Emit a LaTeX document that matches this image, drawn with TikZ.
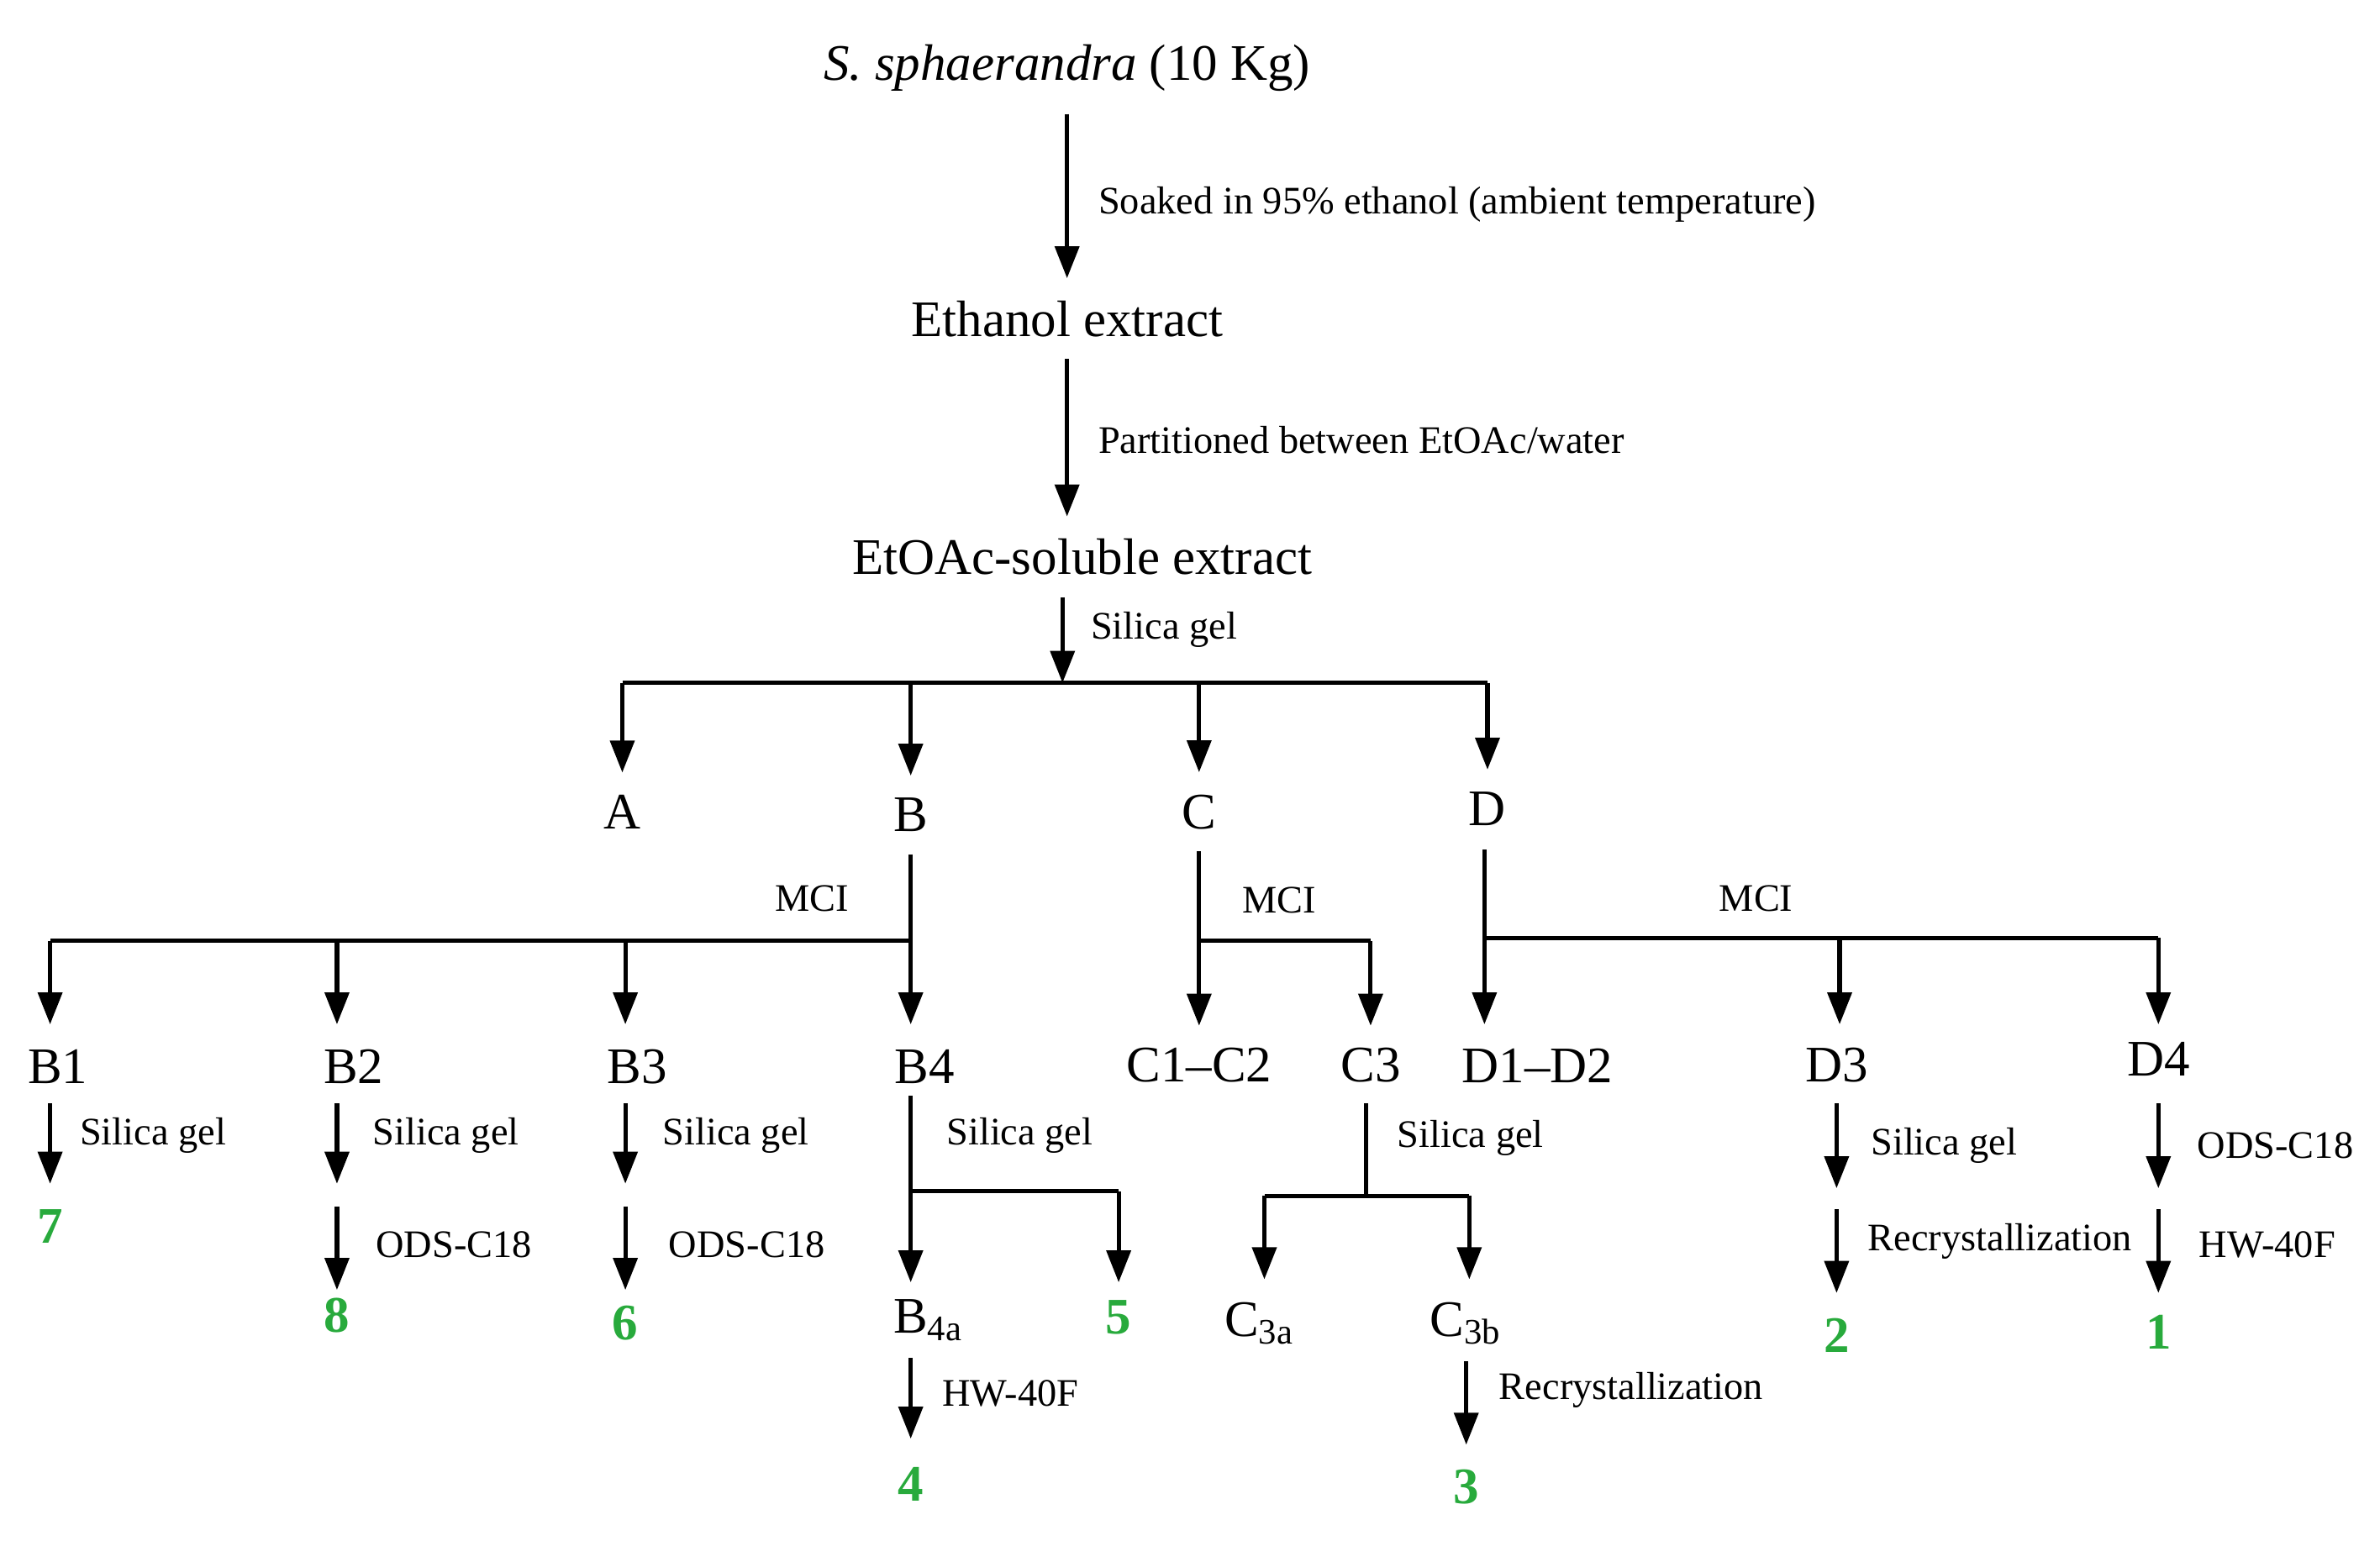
\documentclass[tikz,border=0pt]{standalone}
\usepackage{fontspec}
\setmainfont{Liberation Serif}
\usetikzlibrary{arrows.meta}

\definecolor{cpdgreen}{RGB}{40,170,60}

\tikzset{
    arr/.style={-{Triangle[length=6pt,width=4.5pt]}, line width=0.8pt},
    ln/.style={line width=0.8pt},
    stage/.style={font=\fontsize{9.6}{11}\selectfont, inner sep=4pt},
    cpd/.style={font=\fontsize{9.6}{11}\selectfont\bfseries, text=cpdgreen, inner sep=4pt},
    lab/.style={font=\fontsize{7.3}{9}\selectfont, anchor=west, inner sep=0pt},
}

\begin{document}
\begin{tikzpicture}[x=0.01cm, y=-0.01cm]

\useasboundingbox (0,0) rectangle (1568,1015);

% main sequence
\node[stage] (plant) at (703,45) {\textit{S. sphaerandra} (10 Kg)};
\node[stage] (ethx) at (703,210) {Ethanol extract};
\node[stage] (eax) at (713,367) {EtOAc-soluble extract};
\draw[arr] (plant.south -| 703,0) -- (ethx.north);
\draw[arr] (ethx.south) -- (ethx.south |- eax.north);
\node[lab] (l1) at (723,135) {Soaked in 95\% ethanol (ambient temperature)};
\node[lab] (l2) at (723,290) {Partitioned between EtOAc/water};

% first column
\node[stage] (A) at (410,535) {A};
\node[stage] (B) at (600,537) {B};
\node[stage] (C) at (790,535) {C};
\node[stage] (D) at (980,533) {D};
\coordinate (jS) at (700,450);
\draw[arr] (eax.south -| jS) -- (jS);
\node[lab] (l3) at (718,415) {Silica gel};
\draw[ln] (A.north |- jS) -- (D.north |- jS);
\foreach \n in {A,B,C,D}
    \draw[arr] (\n.north |- jS) -- (\n.north);

% fraction B
\node[stage] (B1) at (38,703) {B1};
\node[stage] (B2) at (233,703) {B2};
\node[stage] (B3) at (420,703) {B3};
\node[stage] (B4) at (609,703) {B4};
\coordinate (jB) at (600,620);
\draw[ln] (B.south) -- (jB) -- (33,620);
\draw[arr] (33,620) -- (33,675);
\draw[arr] (222,620) -- (222,675);
\draw[arr] (412,620) -- (412,675);
\draw[arr] (jB) -- (600,675);
\node[lab] (l4) at (510,592) {MCI};

% fraction C
\node[stage] (C12) at (790,702) {C1{\textendash}C2};
\node[stage] (C3) at (903,702) {C3};
\coordinate (jC) at (790,620);
\draw[ln] (C.south) -- (jC) -- (903,620);
\draw[arr] (jC) -- (C12.north);
\draw[arr] (903,620) -- (C3.north);
\node[lab] (l5) at (818,593) {MCI};

% fraction D
\node[stage] (D12) at (1013,702) {D1{\textendash}D2};
\node[stage] (D3) at (1210,702) {D3};
\node[stage] (D4) at (1422,698) {D4};
\coordinate (jD) at (978,618);
\draw[ln] (978,560) -- (jD) -- (1422,618);
\draw[arr] (jD) -- (978,675);
\draw[arr] (1212,618) -- (1212,675);
\draw[arr] (1422,618) -- (1422,675);
\node[lab] (l6) at (1132,592) {MCI};

% B1 -- B3
\node[cpd] (c7) at (33,808) {7};
\draw[arr] (33,727) -- (33,780);
\node[lab] at (52,748) {Silica gel};
\node[cpd] (c8) at (222,867) {8};
\draw[arr] (222,727) -- (222,780);
\draw[arr] (222,795) -- (222,850);
\node[lab] at (245,748) {Silica gel};
\node[lab] at (247,820) {ODS-C18};
\node[cpd] (c6) at (412,872) {6};
\draw[arr] (412,727) -- (412,780);
\draw[arr] (412,795) -- (412,850);
\node[lab] at (436,748) {Silica gel};
\node[lab] at (440,820) {ODS-C18};

% B4
\node[stage] (B4a) at (612,870) {B\textsubscript{4a}};
\node[cpd] (c5) at (737,868) {5};
\node[cpd] (c4) at (600,978) {4};
\draw[ln] (600,722) -- (600,785) -- (737,785);
\draw[arr] (600,785) -- (600,845);
\draw[arr] (737,785) -- (737,845);
\draw[arr] (600,895) -- (600,948);
\node[lab] at (623,748) {Silica gel};
\node[lab] at (620,918) {HW-40F};

% C3
\node[stage] (C3a) at (830,872) {C\textsubscript{3a}};
\node[stage] (C3b) at (966,872) {C\textsubscript{3b}};
\node[cpd] (c3) at (966,980) {3};
\draw[ln] (900,727) -- (900,788);
\draw[ln] (833,788) -- (968,788);
\draw[arr] (833,788) -- (833,843);
\draw[arr] (968,788) -- (968,843);
\draw[arr] (966,897) -- (966,952);
\node[lab] at (920,750) {Silica gel};
\node[lab] at (987,916) {Recrystallization};

% D3, D4
\node[cpd] (c2) at (1210,880) {2};
\draw[arr] (1210,727) -- (1210,783);
\draw[arr] (1210,797) -- (1210,852);
\node[lab] at (1232,755) {Silica gel};
\node[lab] at (1230,818) {Recrystallization};
\node[cpd] (c1) at (1422,878) {1};
\draw[arr] (1422,727) -- (1422,783);
\draw[arr] (1422,797) -- (1422,852);
\node[lab] at (1447,755) {ODS-C18};
\node[lab] at (1448,820) {HW-40F};

\end{tikzpicture}
\end{document}
